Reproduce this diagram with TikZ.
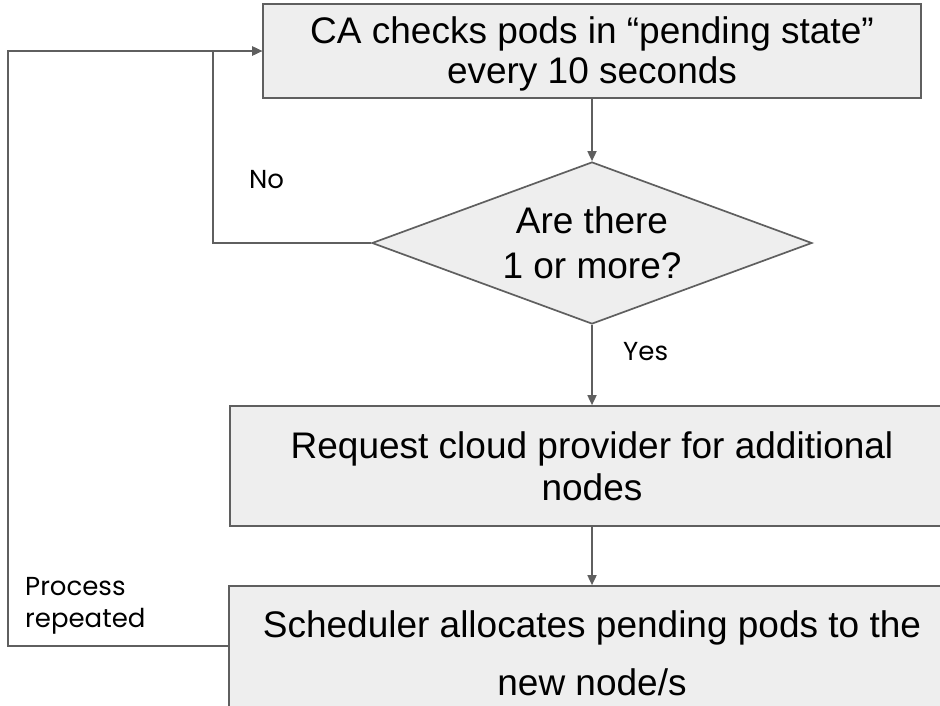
\documentclass[tikz,border=0pt]{standalone}
\usepackage{fontspec}
\setmainfont{Liberation Sans}
\newfontfamily\labelfont{Poppins}
\usetikzlibrary{shapes.geometric,arrows.meta}
\definecolor{linegray}{HTML}{5F5F5F}
\definecolor{boxfill}{HTML}{EEEEEE}

\begin{document}
\begin{tikzpicture}[x=1pt,y=-1pt,
  flowline/.style={draw=linegray,line width=1.7pt},
  arrow/.style={flowline,-{Triangle[length=10pt,width=9pt]}},
  stepbox/.style={rectangle,draw=linegray,line width=1.7pt,fill=boxfill,
    inner sep=0pt,align=center},
  decision/.style={diamond,aspect=2.7,draw=linegray,line width=1.7pt,
    fill=boxfill,inner sep=0pt,align=center},
  mainfont/.style={font=\fontsize{37}{#1}\selectfont},
  edgelabel/.style={anchor=base west,align=left,inner sep=0pt,
    font=\labelfont\fontsize{26}{32}\selectfont}
]
\useasboundingbox (0,0) rectangle (940,705);
\clip (0,0) rectangle (940,705);

% process steps and the decision
\node[stepbox,mainfont=40,minimum width=658pt,minimum height=94pt,
  text height=70pt,text depth=6pt]
  (check) at (592,51) {CA checks pods in “pending state”\\every 10 seconds};
\node[decision,mainfont=45,minimum width=440pt,minimum height=162pt,
  text height=75pt,text depth=5pt]
  (ask) at (592,243) {Are there\\1 or more?};
\node[stepbox,mainfont=42,minimum width=724pt,minimum height=120pt,
  text height=72pt,text depth=4pt]
  (request) at (592,466) {Request cloud provider for additional\\nodes};
\node[stepbox,mainfont=58,minimum width=726pt,minimum height=154pt,
  text height=70pt,text depth=6pt]
  (schedule) at (592,663) {Scheduler allocates pending pods to the\\new node/s};

% main flow
\draw[arrow] (check) -- (ask);
\draw[arrow] (ask) -- (request);
\draw[arrow] (request) -- (schedule);

% "No" branch back to the check
\coordinate (noturn) at (213,243);
\draw[arrow] (ask.west) -- (noturn) |- (check.west);

% outer loop after scheduling
\coordinate (loopstart) at (229,646);
\coordinate (loopcorner) at (8,646);
\draw[arrow] (loopstart) -- (loopcorner) |- (check.west);

% branch labels
\node[edgelabel] (nolabel) at (249,188) {No};
\node[edgelabel] (yeslabel) at (623,360) {Yes};
\node[edgelabel] (repeatlabel) at (25,627) {Process\\repeated};
\end{tikzpicture}
\end{document}
